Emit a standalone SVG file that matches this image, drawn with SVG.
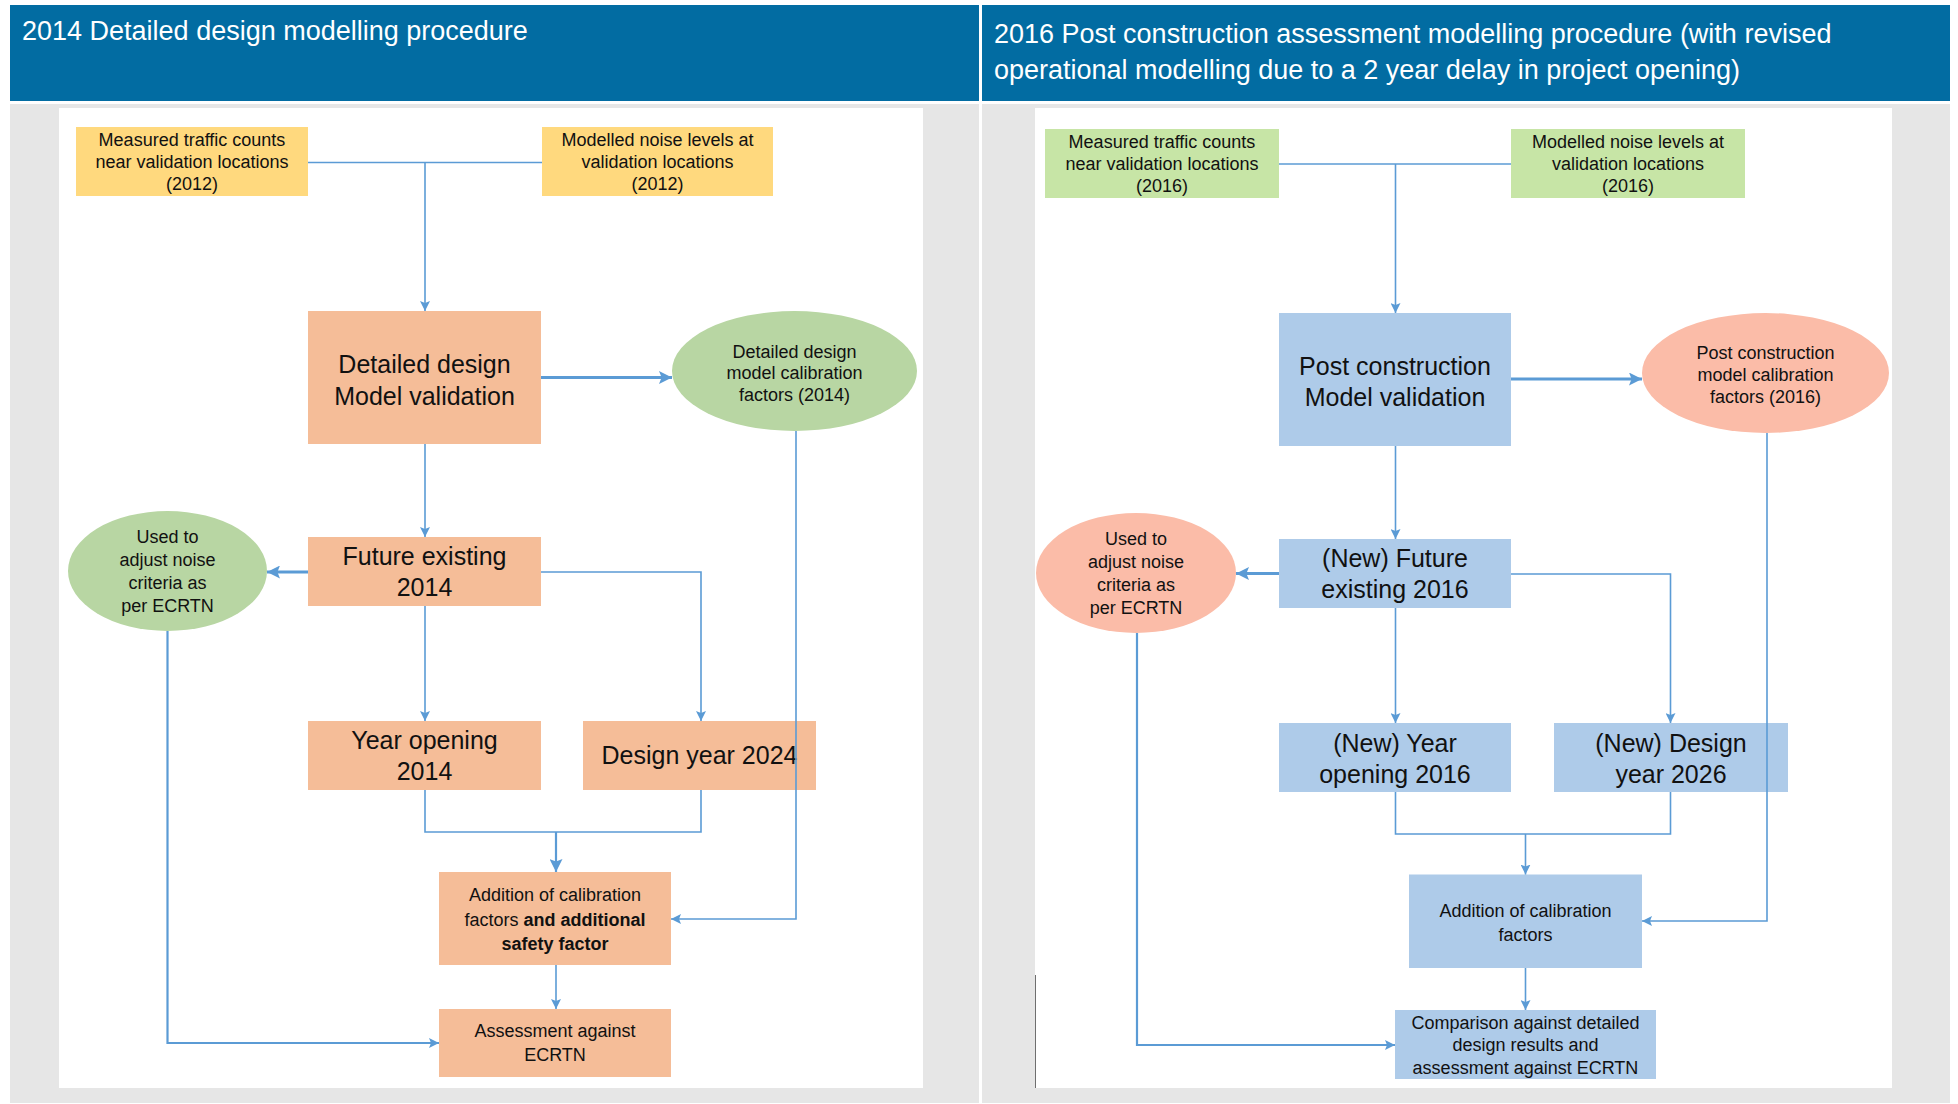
<svg xmlns="http://www.w3.org/2000/svg" width="1958" height="1104" viewBox="0 0 1958 1104">
<style>
text{font-family:"Liberation Sans",Arial,sans-serif;fill:#111;text-anchor:middle}
.hd{fill:#ffffff;font-size:27px;text-anchor:start}
.s{font-size:18px}
.b{font-size:25px}
.bold{font-weight:bold}
.hdr{fill:#026ca2}
.bg{fill:#e6e6e6}
.pn{fill:#ffffff}
.yel{fill:#ffd97e}
.org{fill:#f5bd98}
.grn{fill:#b8d6a3}
.lgr{fill:#c7e5a6}
.blu{fill:#aecbe9}
.sal{fill:#fbbca8}
.c{fill:none;stroke:#5b9bd5;stroke-width:1.6}
.t{fill:none;stroke:#5b9bd5;stroke-width:3}
.m{fill:none;stroke:#5b9bd5;stroke-width:2.2}
</style>
<defs>
<marker id="a" viewBox="0 0 10 10" refX="10" refY="5" markerWidth="10" markerHeight="10" markerUnits="userSpaceOnUse" orient="auto">
<path d="M0,0 L10,5 L0,10 L2,5 z" fill="#5b9bd5"/>
</marker>
<marker id="ab" viewBox="0 0 10 10" refX="10" refY="5" markerWidth="13" markerHeight="13" markerUnits="userSpaceOnUse" orient="auto">
<path d="M0,0 L10,5 L0,10 L2,5 z" fill="#5b9bd5"/>
</marker>
</defs>
<rect width="1958" height="1104" fill="#ffffff"/>

<!-- Left panel background -->
<g id="panel-left">
<rect class="hdr" x="10" y="5" width="969" height="96"/>
<text class="hd" x="22" y="40">2014 Detailed design modelling procedure</text>
<rect class="bg" x="10" y="104" width="969" height="999"/>
<rect class="pn" x="59" y="108" width="864" height="980"/>
</g>

<!-- Right panel background -->
<g id="panel-right">
<rect class="hdr" x="982" y="5" width="968" height="96"/>
<text class="hd" x="994" y="43">2016 Post construction assessment modelling procedure (with revised</text>
<text class="hd" x="994" y="79">operational modelling due to a 2 year delay in project opening)</text>
<rect class="bg" x="982" y="104" width="968" height="999"/>
<rect class="pn" x="1035" y="108" width="857" height="980"/>
<line x1="1035.5" y1="975" x2="1035.5" y2="1088" stroke="#6f6f6f" stroke-width="1"/>
</g>

<!-- Left nodes -->
<g id="l-traffic">
<rect class="yel" x="76" y="127" width="232" height="69"/>
<text class="s" x="192" y="146">Measured traffic counts</text>
<text class="s" x="192" y="168">near validation locations</text>
<text class="s" x="192" y="190">(2012)</text>
</g>
<g id="l-noise">
<rect class="yel" x="542" y="127" width="231" height="69"/>
<text class="s" x="657.5" y="146">Modelled noise levels at</text>
<text class="s" x="657.5" y="168">validation locations</text>
<text class="s" x="657.5" y="190">(2012)</text>
</g>
<g id="l-validation">
<rect class="org" x="308" y="311" width="233" height="133"/>
<text class="b" x="424.5" y="372.5">Detailed design</text>
<text class="b" x="424.5" y="404.5">Model validation</text>
</g>
<g id="l-factors">
<ellipse class="grn" cx="794.5" cy="371" rx="122.5" ry="60"/>
<text class="s" x="794.5" y="358">Detailed design</text>
<text class="s" x="794.5" y="379">model calibration</text>
<text class="s" x="794.5" y="401">factors (2014)</text>
</g>
<g id="l-future">
<rect class="org" x="308" y="537" width="233" height="69"/>
<text class="b" x="424.5" y="564.5">Future existing</text>
<text class="b" x="424.5" y="595.5">2014</text>
</g>
<g id="l-adjust">
<ellipse class="grn" cx="167.5" cy="571" rx="99.5" ry="60"/>
<text class="s" x="167.5" y="543">Used to</text>
<text class="s" x="167.5" y="566">adjust noise</text>
<text class="s" x="167.5" y="589">criteria as</text>
<text class="s" x="167.5" y="612">per ECRTN</text>
</g>
<g id="l-opening">
<rect class="org" x="308" y="721" width="233" height="69"/>
<text class="b" x="424.5" y="748.5">Year opening</text>
<text class="b" x="424.5" y="779.5">2014</text>
</g>
<g id="l-design">
<rect class="org" x="583" y="721" width="233" height="69"/>
<text class="b" x="699.5" y="764">Design year 2024</text>
</g>
<g id="l-addition">
<rect class="org" x="439" y="872" width="232" height="93"/>
<text class="s" x="555" y="901">Addition of calibration</text>
<text class="s" x="555" y="926">factors <tspan class="bold">and additional</tspan></text>
<text class="s bold" x="555" y="950">safety factor</text>
</g>
<g id="l-assessment">
<rect class="org" x="439" y="1009" width="232" height="68"/>
<text class="s" x="555" y="1037">Assessment against</text>
<text class="s" x="555" y="1061">ECRTN</text>
</g>

<!-- Right nodes -->
<g id="r-traffic">
<rect class="lgr" x="1045" y="129" width="234" height="69"/>
<text class="s" x="1162" y="148">Measured traffic counts</text>
<text class="s" x="1162" y="170">near validation locations</text>
<text class="s" x="1162" y="192">(2016)</text>
</g>
<g id="r-noise">
<rect class="lgr" x="1511" y="129" width="234" height="69"/>
<text class="s" x="1628" y="148">Modelled noise levels at</text>
<text class="s" x="1628" y="170">validation locations</text>
<text class="s" x="1628" y="192">(2016)</text>
</g>
<g id="r-validation">
<rect class="blu" x="1279" y="313" width="232" height="133"/>
<text class="b" x="1395" y="374.5">Post construction</text>
<text class="b" x="1395" y="405.5">Model validation</text>
</g>
<g id="r-factors">
<ellipse class="sal" cx="1765.5" cy="373" rx="123.5" ry="60"/>
<text class="s" x="1765.5" y="359">Post construction</text>
<text class="s" x="1765.5" y="381">model calibration</text>
<text class="s" x="1765.5" y="403">factors (2016)</text>
</g>
<g id="r-future">
<rect class="blu" x="1279" y="539" width="232" height="69"/>
<text class="b" x="1395" y="566.5">(New) Future</text>
<text class="b" x="1395" y="597.5">existing 2016</text>
</g>
<g id="r-adjust">
<ellipse class="sal" cx="1136" cy="573" rx="100" ry="60"/>
<text class="s" x="1136" y="545">Used to</text>
<text class="s" x="1136" y="568">adjust noise</text>
<text class="s" x="1136" y="591">criteria as</text>
<text class="s" x="1136" y="614">per ECRTN</text>
</g>
<g id="r-opening">
<rect class="blu" x="1279" y="723" width="232" height="69"/>
<text class="b" x="1395" y="751.5">(New) Year</text>
<text class="b" x="1395" y="782.5">opening 2016</text>
</g>
<g id="r-design">
<rect class="blu" x="1554" y="723" width="234" height="69"/>
<text class="b" x="1671" y="751.5">(New) Design</text>
<text class="b" x="1671" y="782.5">year 2026</text>
</g>
<g id="r-addition">
<rect class="blu" x="1409" y="874.5" width="233" height="93.5"/>
<text class="s" x="1525.5" y="916.5">Addition of calibration</text>
<text class="s" x="1525.5" y="941">factors</text>
</g>
<g id="r-comparison">
<rect class="blu" x="1395" y="1010" width="261" height="69"/>
<text class="s" x="1525.5" y="1029">Comparison against detailed</text>
<text class="s" x="1525.5" y="1051">design results and</text>
<text class="s" x="1525.5" y="1074">assessment against ECRTN</text>
</g>

<!-- Connectors -->
<g id="connectors">
<!-- left -->
<path class="c" d="M308,162.5 H542"/>
<path class="c" d="M425,162.5 V311" marker-end="url(#a)"/>
<path class="t" d="M541,377.5 H672" marker-end="url(#ab)"/>
<path class="c" d="M425,444 V537" marker-end="url(#a)"/>
<path class="t" d="M308,572 H267" marker-end="url(#ab)"/>
<path class="c" d="M541,572 H701 V721" marker-end="url(#a)"/>
<path class="c" d="M425,606 V721" marker-end="url(#a)"/>
<path class="c" d="M796,431 V919 H671" marker-end="url(#a)"/>
<path class="c" d="M425,790 V832 H701 V790"/>
<path class="m" d="M556,832 V872" marker-end="url(#ab)"/>
<path class="c" d="M556,965 V1009" marker-end="url(#a)"/>
<path class="m" d="M167.5,631 V1043 H439" marker-end="url(#a)"/>
<!-- right -->
<path class="c" d="M1279,164 H1511"/>
<path class="c" d="M1395.5,164 V313" marker-end="url(#a)"/>
<path class="t" d="M1511,379 H1642" marker-end="url(#ab)"/>
<path class="c" d="M1395.5,446 V539" marker-end="url(#a)"/>
<path class="t" d="M1279,573.5 H1236" marker-end="url(#ab)"/>
<path class="c" d="M1511,574 H1670.5 V723" marker-end="url(#a)"/>
<path class="c" d="M1395.5,608 V723" marker-end="url(#a)"/>
<path class="c" d="M1767,433 V921 H1642" marker-end="url(#a)"/>
<path class="c" d="M1395.5,792 V834 H1670.5 V792"/>
<path class="c" d="M1525.5,834 V874.5" marker-end="url(#a)"/>
<path class="c" d="M1525.5,968 V1010" marker-end="url(#a)"/>
<path class="m" d="M1137,633 V1045 H1395" marker-end="url(#a)"/>
</g>
</svg>
